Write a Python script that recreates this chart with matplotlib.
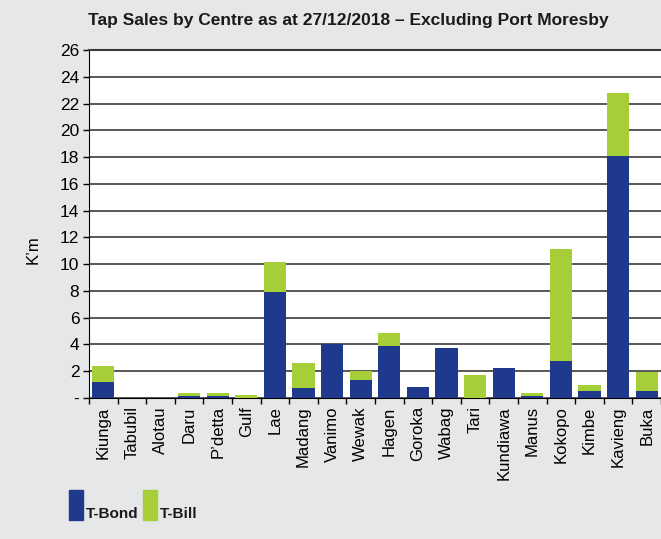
import matplotlib
matplotlib.use('Agg')
import matplotlib.pyplot as plt
from matplotlib.patches import Rectangle
import numpy as np

# Tap sales by centre (K'm)
centres = ["Kiunga", "Tabubil", "Alotau", "Daru", "P\u2019detta", "Gulf", "Lae", "Madang",
           "Vanimo", "Wewak", "Hagen", "Goroka", "Wabag", "Tari", "Kundiawa", "Manus",
           "Kokopo", "Kimbe", "Kavieng", "Buka"]
t_bond = [1.22, 0.0, 0.0, 0.17, 0.17, 0.0, 7.95, 0.77, 4.04, 1.35, 3.89, 0.82,
          3.74, 0.0, 2.24, 0.17, 2.77, 0.52, 18.1, 0.52]
t_bill = [1.17, 0.0, 0.0, 0.20, 0.20, 0.22, 2.21, 1.85, 0.0, 0.67, 0.97, 0.0,
          0.0, 1.72, 0.0, 0.20, 8.37, 0.45, 4.7, 1.42]
y_ticks = list(range(0, 27, 2))
y_labels = ["-"] + [str(v) for v in y_ticks[1:]]
series_names = ["T-Bond", "T-Bill"]

bg = "#e6e7e9"
blue = "#1f3a8c"
green = "#a6ce39"
plt.rcParams['font.family'] = ["Liberation Sans", "DejaVu Sans"]

W, H = 661, 539
fig = plt.figure(figsize=(W / 100, H / 100), dpi=100, facecolor=bg)
ax = fig.add_axes([89 / W, 1 - 398 / H, 1 - 89 / W, 348 / H])
ax.set_facecolor("white")

x = np.arange(len(centres))
ax.bar(x, t_bond, width=0.77, color=blue, zorder=3)
ax.bar(x, t_bill, width=0.77, bottom=t_bond, color=green, zorder=3)

ax.set_ylim(0, 26)
ax.set_xlim(-0.5, 19.4)
ax.set_yticks(y_ticks)
ax.set_yticklabels(y_labels, fontsize=12.5)
ax.yaxis.grid(True, color="#2b2b2b", linewidth=1.1, zorder=1)
ax.set_axisbelow(True)

# category labels at centres, tick marks at boundaries
ax.set_xticks(x)
ax.set_xticklabels(centres, rotation=90, fontsize=12)
ax.tick_params(axis='x', which='major', length=0, pad=6)
ax.set_xticks(np.arange(-0.5, len(centres), 1.0), minor=True)
ax.tick_params(axis='x', which='minor', length=4, width=1, direction='out')
ax.tick_params(axis='y', length=4, width=1, direction='out', pad=3)

ax.spines["right"].set_visible(False)
ax.spines["top"].set_color("#3a3a3a")
ax.spines["top"].set_linewidth(1.5)
ax.spines["left"].set_color("black")
ax.spines["bottom"].set_color("black")

fig.text(33 / W, 1 - 250 / H, "K\u2019m", fontsize=12, rotation=90, ha='center', va='center')

fig.text(88 / W, 1 - 20 / H, "Tap Sales by Centre as at 27/12/2018 \u2013 Excluding Port Moresby",
         fontsize=12.5, fontweight='bold', va='center', ha='left', color="#1a1a1a")

# legend: tall swatches with labels sitting at their bottom
for i, (name, col) in enumerate(zip(series_names, [blue, green])):
    x0 = 69 + i * 74
    fig.patches.append(Rectangle((x0 / W, 1 - 520 / H), 14 / W, 30 / H,
                                 transform=fig.transFigure, color=col))
    fig.text((x0 + 17) / W, 1 - 518 / H, name, fontsize=11, fontweight='bold',
             ha='left', va='baseline', color="#1a1a1a")

fig.savefig("out.png", dpi=100, facecolor=bg)
